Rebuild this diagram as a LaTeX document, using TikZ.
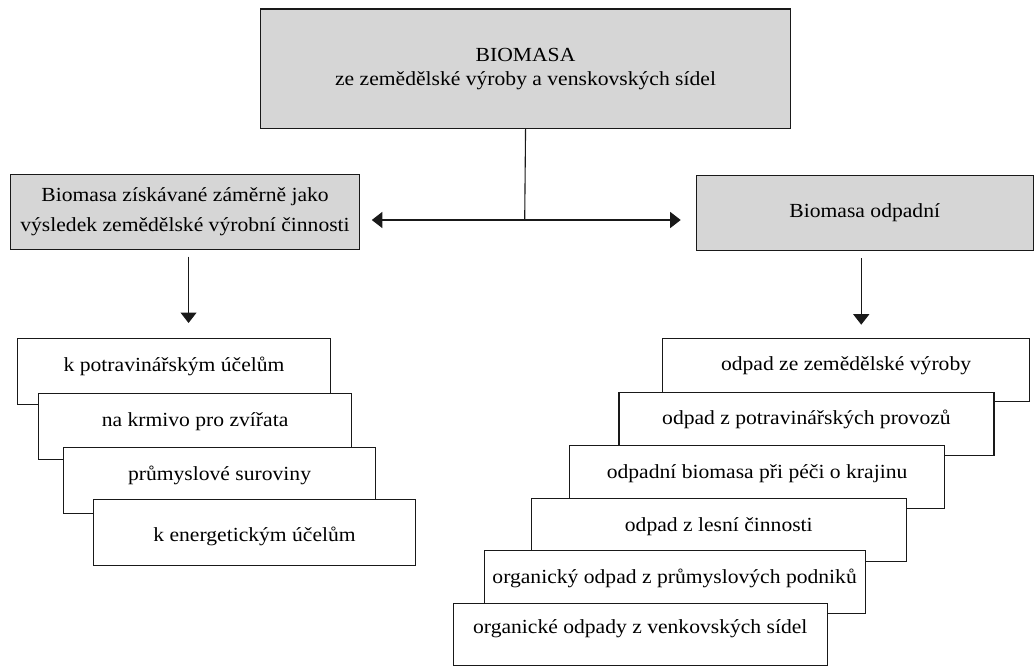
\documentclass[tikz,border=0pt]{standalone}
\usepackage{fontspec}
\setmainfont{Liberation Serif}
\usepackage{graphicx}
\usetikzlibrary{arrows.meta}
\definecolor{boxgray}{RGB}{214,214,214}
\newcommand{\wtxt}[1]{\scalebox{1.08}[1]{#1}}

\begin{document}
\begin{tikzpicture}[x=1pt, y=-1pt,
  every node/.style={font=\fontsize{20}{24}\selectfont},
  headbox/.style={draw=black!90, line width=1.1pt, fill=boxgray, inner sep=0pt, align=center, anchor=north west},
  itembox/.style={draw=black!90, line width=1.1pt, fill=white, inner sep=0pt, anchor=north west, text height=33pt, text depth=33pt},
  ritem/.style={itembox, text height=32.5pt, text depth=30.5pt},
  tip/.style={line width=1.1pt, draw=black!90, -{Triangle[length=10.5pt,width=16pt]}}]
\useasboundingbox (0,0) rectangle (1035,666);

% top
\node[headbox, minimum width=530pt, minimum height=119.5pt] (bio) at (260,8.5) {\wtxt{BIOMASA}\\ \wtxt{ze zemědělské výroby a venskovských sídel}};
\node[headbox, minimum width=349pt, minimum height=74.5pt, font=\fontsize{20}{30}\selectfont] (zamer) at (10,174) {\wtxt{Biomasa získávané záměrně jako}\\ \wtxt{výsledek zemědělské výrobní činnosti}};
\node[headbox, minimum width=337pt, minimum height=75pt] (odpad) at (695.7,175) {\wtxt{Biomasa odpadní}};

\coordinate (j) at (524.7,220);
\draw[line width=1.1pt, black!90] (bio.south) -- (j);
\draw[tip, {Triangle[length=10.5pt,width=16pt]}-{Triangle[length=10.5pt,width=16pt]}, shorten <=11.7pt, shorten >=15pt] (zamer.east |- j) -- (odpad.west |- j);

% left column
\node[itembox, minimum width=313pt] (l1) at (17,338) {\wtxt{k potravinářským účelům}};
\node[itembox, minimum width=313pt] (l2) at (38,393) {\wtxt{na krmivo pro zvířata}};
\node[itembox, minimum width=312pt] (l3) at (63,447) {\wtxt{průmyslové suroviny}};
\node[itembox, minimum width=322pt, text height=42pt, text depth=24pt] (l4) at (93,499) {\wtxt{k energetickým účelům}};
\draw[tip, shorten <=7pt, shorten >=15pt] ([xshift=3.5pt]zamer.south) -- ([xshift=3.5pt]zamer.south |- l1.north);

% right column
\node[ritem, minimum width=367pt] (r1) at (662,337.7) {\wtxt{odpad ze zemědělské výroby}};
\node[ritem, minimum width=375pt] (r2) at (618.4,391.7) {\wtxt{odpad z potravinářských provozů}};
\node[ritem, minimum width=375pt] (r3) at (569,445) {\wtxt{odpadní biomasa při péči o krajinu}};
\node[ritem, minimum width=374.5pt] (r4) at (531,498.3) {\wtxt{odpad z lesní činnosti}};
\node[ritem, minimum width=381pt] (r5) at (483.6,550.3) {\wtxt{organický odpad z průmyslových podniků}};
\node[ritem, minimum width=374.5pt, text height=30pt, text depth=32pt] (r6) at (452.5,603.3) {\wtxt{organické odpady z venkovských sídel}};
\draw[tip, shorten <=7pt, shorten >=13pt] ([xshift=-3.5pt]odpad.south) -- ([xshift=-3.5pt]odpad.south |- r1.north);
\end{tikzpicture}
\end{document}
